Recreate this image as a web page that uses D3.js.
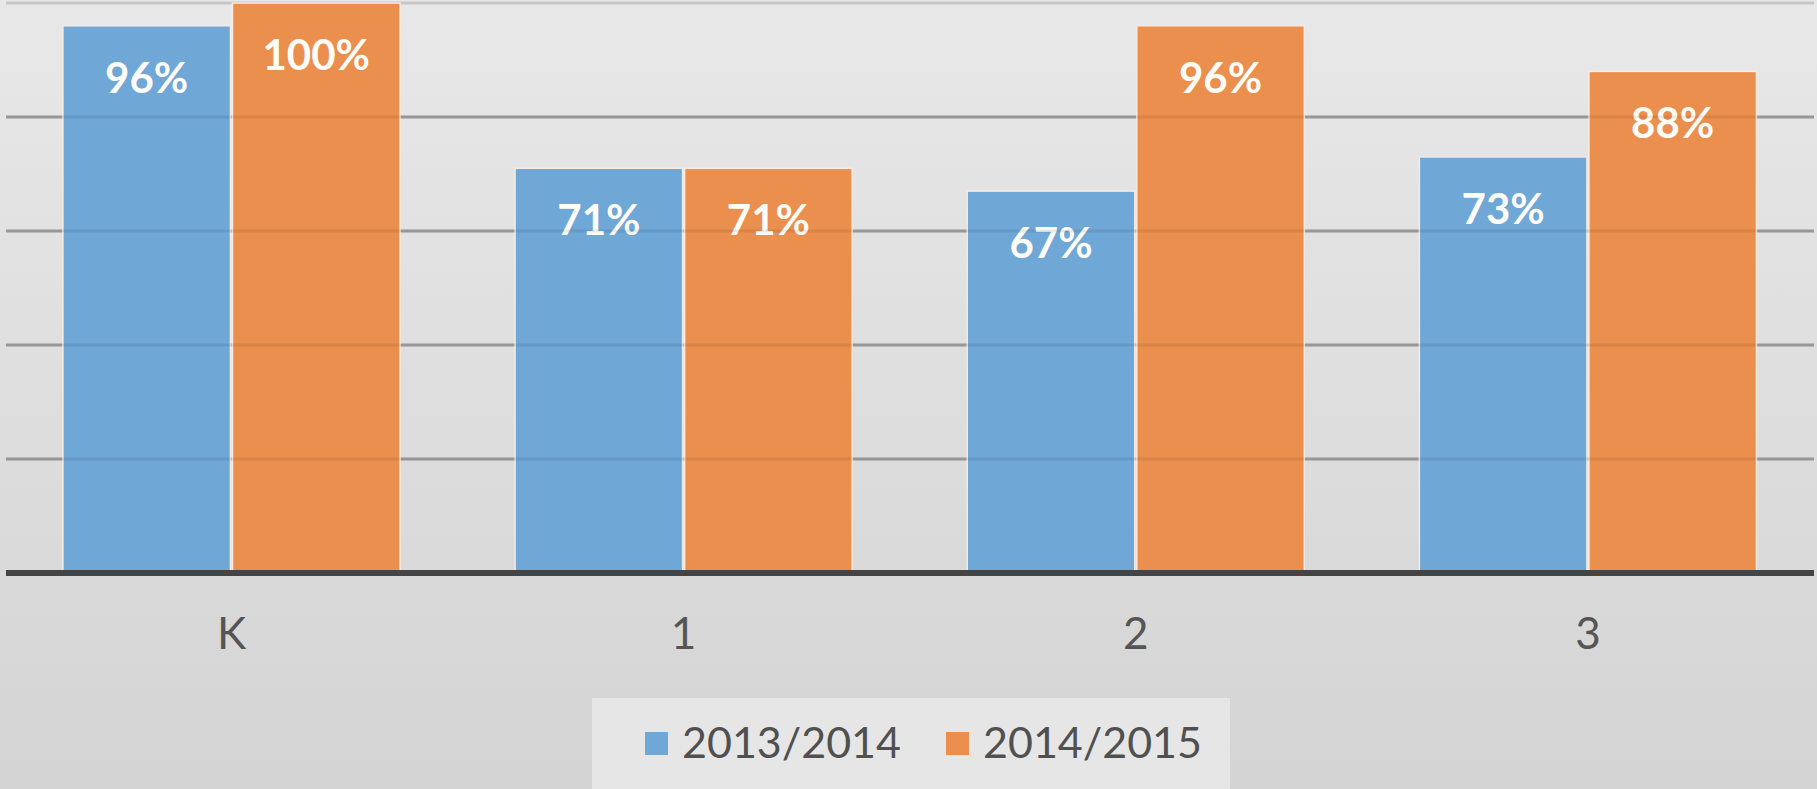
<!DOCTYPE html>
<html>
<head>
<meta charset="utf-8">
<script src="https://cdn.jsdelivr.net/npm/d3@7"></script>
<style>
  html, body { margin: 0; padding: 0; overflow: hidden; }
  svg { display: block; font-family: Lato, "Open Sans", sans-serif; }
</style>
</head>
<body>
<svg id="chart" width="1817" height="789"></svg>
<script>
// grade levels
const categories = ["K", "1", "2", "3"];
const seriesNames = ["2013/2014", "2014/2015"];
const values2013 = [0.96, 0.71, 0.67, 0.73];
const values2014 = [1.00, 0.71, 0.96, 0.88];
const yTicks = [0.2, 0.4, 0.6, 0.8, 1.0];
const colors = ["#6fa7d7", "#eb8f4f"];

const svg = d3.select("#chart"),
    width = +svg.attr("width"),
    height = +svg.attr("height");

// background gradient
const defs = svg.append("defs");
const grad = defs.append("linearGradient")
    .attr("id", "bg").attr("x1", 0).attr("y1", 0).attr("x2", 0).attr("y2", 1);
grad.append("stop").attr("offset", "0%").attr("stop-color", "#e8e8e8");
grad.append("stop").attr("offset", "100%").attr("stop-color", "#d4d4d4");
svg.append("rect").attr("width", width).attr("height", height).attr("fill", "url(#bg)");

const data = categories.map((c, i) => ({ cat: c, vals: [values2013[i], values2014[i]] }));

const x0 = d3.scaleBand()
    .domain(categories)
    .range([5.4, 1814])
    .paddingInner(0.25)
    .paddingOuter(0.125);

const x1 = d3.scaleBand()
    .domain(d3.range(seriesNames.length))
    .range([0, x0.bandwidth()]);

const y = d3.scaleLinear().domain([0, 1]).range([573, 3]);

// gridlines behind bars
const grid = svg.append("g");
grid.selectAll("line")
    .data(yTicks)
    .enter().append("line")
    .attr("x1", 6).attr("x2", 1814)
    .attr("y1", d => y(d)).attr("y2", d => y(d))
    .attr("stroke", d => d === 1 ? "#c6c6c6" : "#a4a4a4")
    .attr("stroke-width", 3);

// bars
const groups = svg.append("g")
    .selectAll("g")
    .data(data)
    .enter().append("g")
    .attr("transform", d => `translate(${x0(d.cat)},0)`);

groups.selectAll("rect")
    .data(d => d.vals.map((v, i) => ({ v: v, i: i })))
    .enter().append("rect")
    .attr("x", d => x1(d.i) + 1)
    .attr("y", d => y(d.v))
    .attr("width", x1.bandwidth() - 2)
    .attr("height", d => y(0) - y(d.v))
    .attr("fill", d => colors[d.i])
    .attr("stroke", "#f6ebe2")
    .attr("stroke-width", 1.5);

// faint gridlines showing through bars
svg.append("g").selectAll("line")
    .data(yTicks.slice(0, 4))
    .enter().append("line")
    .attr("x1", 6).attr("x2", 1814)
    .attr("y1", d => y(d)).attr("y2", d => y(d))
    .attr("stroke", "#000")
    .attr("stroke-opacity", 0.08)
    .attr("stroke-width", 3);

// data labels
groups.selectAll("text")
    .data(d => d.vals.map((v, i) => ({ v: v, i: i })))
    .enter().append("text")
    .attr("x", d => x1(d.i) + x1.bandwidth() / 2)
    .attr("y", d => y(d.v) + 67)
    .attr("text-anchor", "middle")
    .attr("font-size", "42px")
    .attr("font-weight", "bold")
    .attr("fill", "#fffdf8")
    .text(d => d3.format(".0%")(d.v));

// baseline
svg.append("line")
    .attr("x1", 6).attr("x2", 1814)
    .attr("y1", y(0)).attr("y2", y(0))
    .attr("stroke", "#444")
    .attr("stroke-width", 6);

// category labels
svg.append("g").selectAll("text")
    .data(categories)
    .enter().append("text")
    .attr("x", d => x0(d) + x0.bandwidth() / 2)
    .attr("y", 649)
    .attr("text-anchor", "middle")
    .attr("font-size", "44px")
    .attr("fill", "#555")
    .text(d => d);

// legend
const legend = svg.append("g");
legend.append("rect")
    .attr("x", 592).attr("y", 698)
    .attr("width", 638).attr("height", 95)
    .attr("fill", "#e6e6e6");

const legendX = [645, 946];
const item = legend.selectAll("g.item")
    .data(seriesNames)
    .enter().append("g")
    .attr("class", "item")
    .attr("transform", (d, i) => `translate(${legendX[i]},0)`);

item.append("rect")
    .attr("x", 0).attr("y", 732)
    .attr("width", 23).attr("height", 23)
    .attr("fill", (d, i) => colors[i]);

item.append("text")
    .attr("x", 37)
    .attr("y", 758)
    .attr("font-size", "43px")
    .attr("fill", "#505050")
    .text(d => d);
</script>
</body>
</html>
